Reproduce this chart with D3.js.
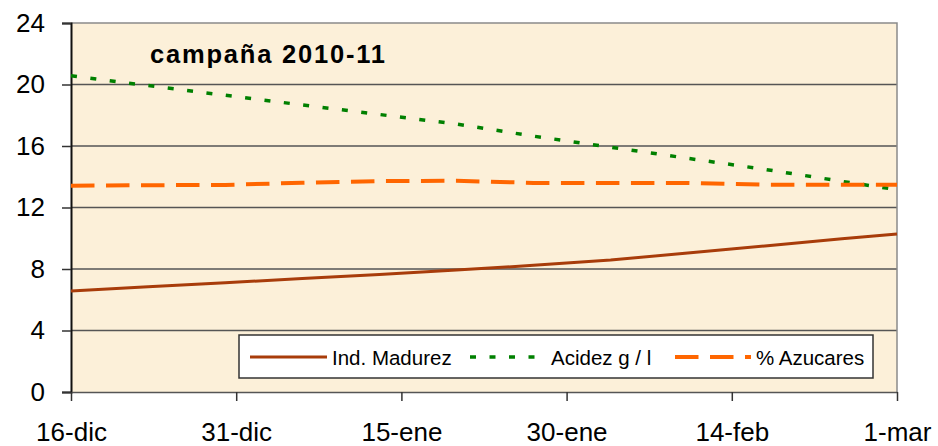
<!DOCTYPE html>
<html>
<head>
    <meta charset="utf-8">
    <script src="https://cdn.jsdelivr.net/npm/d3@7/dist/d3.min.js"></script>
    <style>
        body { margin: 0; background: #fff; font-family: "Liberation Sans", Arial, sans-serif; }
    </style>
</head>
<body>
<svg id="chart"></svg>
<script>
    // values
    const fechas = ["2010-12-16", "2010-12-23", "2010-12-30", "2011-01-06", "2011-01-13", "2011-01-20",
                    "2011-01-27", "2011-02-03", "2011-02-10", "2011-02-17", "2011-02-24", "2011-03-01"];
    const madurez = [6.57, 6.84, 7.11, 7.38, 7.64, 7.93, 8.24, 8.58, 9.04, 9.5, 9.96, 10.28];
    const acidez = [20.57, 19.93, 19.3, 18.67, 18.05, 17.43, 16.64, 15.92, 15.2, 14.48, 13.7, 13.16];
    const azucares = [13.42, 13.45, 13.47, 13.61, 13.72, 13.74, 13.6, 13.6, 13.6, 13.48, 13.48, 13.48];

    const tickFechas = ["2010-12-16", "2010-12-31", "2011-01-15", "2011-01-30", "2011-02-14", "2011-03-01"];
    const tickLabels = ["16-dic", "31-dic", "15-ene", "30-ene", "14-feb", "1-mar"];
    const yTicks = [0, 4, 8, 12, 16, 20, 24];

    const series = [
        { name: "Ind. Madurez", values: madurez, color: "#a83c0a", width: 3, dash: null },
        { name: "Acidez g / l", values: acidez, color: "#008000", width: 3.5, dash: "6,13.5" },
        { name: "% Azucares", values: azucares, color: "#ff6600", width: 4, dash: "23.5,11.5" }
    ];

    let width = 938, height = 446;
    let margin = { top: 23, right: 41, bottom: 54, left: 71 };

    let parse = d3.timeParse("%Y-%m-%d");
    let dates = fechas.map(parse);

    let svg = d3.select("#chart").attr("width", width).attr("height", height);

    let x = d3.scaleTime()
        .domain([parse(tickFechas[0]), parse(tickFechas[tickFechas.length - 1])])
        .range([margin.left, width - margin.right]);
    let y = d3.scaleLinear().domain([0, 24]).range([height - margin.bottom, margin.top]);

    // plot area
    svg.append("rect")
        .attr("x", x.range()[0]).attr("y", y(24))
        .attr("width", x.range()[1] - x.range()[0]).attr("height", y(0) - y(24))
        .attr("fill", "#fcf0d9");

    // gridlines
    svg.append("g").selectAll("line")
        .data(yTicks.filter(d => d > 0 && d < 24))
        .join("line")
        .attr("x1", x.range()[0]).attr("x2", x.range()[1])
        .attr("y1", d => y(d)).attr("y2", d => y(d))
        .attr("stroke", "#555").attr("stroke-width", 1.5);

    // top and right border
    svg.append("path")
        .attr("d", `M${x.range()[0]},${y(24)}H${x.range()[1]}V${y(0)}`)
        .attr("fill", "none").attr("stroke", "#8a8a8a").attr("stroke-width", 1.5);

    // axes
    let yAxis = d3.axisLeft(y).tickValues(yTicks).tickSize(9).tickPadding(17);
    let gy = svg.append("g").attr("transform", `translate(${x.range()[0]},0)`).call(yAxis);
    gy.select(".domain").attr("stroke", "#111").attr("stroke-width", 2);
    gy.selectAll(".tick line").attr("stroke", "#333").attr("stroke-width", 1.5);
    gy.selectAll("text").attr("font-size", 26).attr("font-family", "Liberation Sans, Arial").attr("fill", "#000");

    let xAxis = d3.axisBottom(x)
        .tickValues(tickFechas.map(parse))
        .tickFormat((d, i) => tickLabels[i])
        .tickSize(9).tickSizeOuter(0).tickPadding(22);
    let gx = svg.append("g").attr("transform", `translate(0,${y(0)})`).call(xAxis);
    gx.select(".domain").attr("stroke", "#555").attr("stroke-width", 1.5);
    gx.selectAll(".tick line").attr("stroke", "#333").attr("stroke-width", 1.5);
    gx.selectAll("text").attr("font-size", 26).attr("font-family", "Liberation Sans, Arial").attr("fill", "#000");

    // lines
    let line = d3.line().x((d, i) => x(dates[i])).y(d => y(d));
    for (let s of series) {
        svg.append("path")
            .datum(s.values)
            .attr("d", line)
            .attr("fill", "none")
            .attr("stroke", s.color)
            .attr("stroke-width", s.width)
            .attr("stroke-dasharray", s.dash);
    }

    // title
    svg.append("text")
        .attr("x", 150).attr("y", 63)
        .attr("font-size", 25.5).attr("font-weight", "bold").attr("letter-spacing", 1.8)
        .text("campaña 2010-11");

    // legend
    let lg = svg.append("g");
    lg.append("rect")
        .attr("x", 239).attr("y", 335).attr("width", 634).attr("height", 43)
        .attr("fill", "#fff").attr("stroke", "#333").attr("stroke-width", 1.5);
    let legendPos = [{ x1: 250, x2: 327, tx: 332 }, { x1: 470, x2: 535, tx: 551 }, { x1: 675, x2: 751, tx: 756 }];
    series.forEach((s, i) => {
        let p = legendPos[i];
        lg.append("line")
            .attr("x1", p.x1).attr("x2", p.x2).attr("y1", 357).attr("y2", 357)
            .attr("stroke", s.color).attr("stroke-width", s.width)
            .attr("stroke-dasharray", s.dash);
        lg.append("text")
            .attr("x", p.tx).attr("y", 364.5)
            .attr("font-size", 20.5)
            .text(s.name);
    });
</script>
</body>
</html>
